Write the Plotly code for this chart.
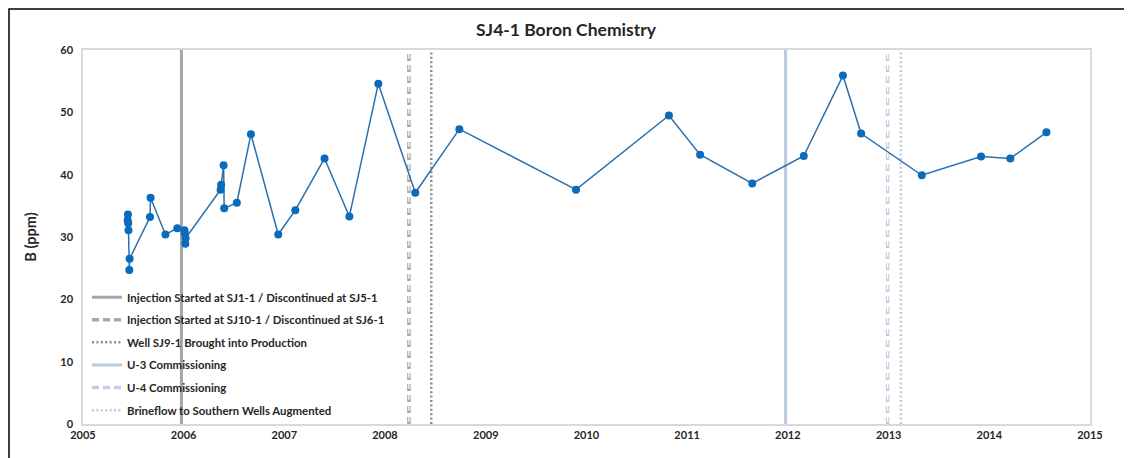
import plotly.graph_objects as go

# ---- data ----
dates = [
    "2005-06-12", "2005-06-13", "2005-06-14", "2005-06-15", "2005-06-18", "2005-06-19",
    "2005-09-01", "2005-09-03", "2005-10-27", "2005-12-09",
    "2006-01-04", "2006-01-05", "2006-01-07", "2006-01-08",
    "2006-05-15", "2006-05-17", "2006-05-26", "2006-05-28", "2006-07-13",
    "2006-09-02", "2006-12-10", "2007-02-10", "2007-05-27", "2007-08-25",
    "2007-12-08", "2008-04-20", "2008-09-27", "2009-11-24", "2010-10-27",
    "2011-02-17", "2011-08-25", "2012-02-28", "2012-07-19", "2012-09-23",
    "2013-05-01", "2013-12-02", "2014-03-18", "2014-07-27",
]
boron = [
    32.7, 33.6, 32.2, 31.1, 24.7, 26.5,
    33.2, 36.3, 30.4, 31.4,
    31.1, 30.6, 28.9, 29.8,
    37.6, 38.4, 41.5, 34.6, 35.5,
    46.5, 30.4, 34.3, 42.6, 33.3,
    54.6, 37.1, 47.3, 37.6, 49.5,
    43.2, 38.6, 43.0, 55.9, 46.6,
    39.9, 42.9, 42.6, 46.8,
]

event_names = [
    "Injection Started at SJ1-1 / Discontinued at SJ5-1",
    "Injection Started at SJ10-1 / Discontinued at SJ6-1",
    "Well SJ9-1 Brought into Production",
    "U-3 Commissioning",
    "U-4 Commissioning",
    "Brineflow to Southern Wells Augmented",
]
event_dates = ["2005-12-24", "2008-03-28", "2008-06-17", "2011-12-24", "2012-12-28", "2013-02-14"]
event_colors = ["#a6a6a6", "#a6a6a6", "#8f8f8f", "#b9c9e0", "#c3cfe0", "#c3cbd9"]
event_dash = ["solid", "7px,4px", "2px,2.4px", "solid", "7px,4px", "2px,2.4px"]
event_width = [3, 3.5, 2.5, 3, 3.5, 2.5]

tick_years = ["2005", "2006", "2007", "2008", "2009", "2010", "2011", "2012", "2013", "2014", "2015"]

y_min, y_max = 0, 60
FONT = "Lato"
TXT = "#262626"

W, H = 1132, 458
ML, MR, MT, MB = 75, 50, 42, 42
PH = H - MT - MB

fig = go.Figure()

for i, (name, d, c, dash, w) in enumerate(zip(event_names, event_dates, event_colors, event_dash, event_width)):
    fig.add_trace(go.Scatter(
        x=[d, d], y=[y_min, y_max], mode="lines", name=f"<b>{name}</b>",
        legendgroup=f"g{i}",
        line=dict(color=c, width=w, dash=dash), hoverinfo="skip",
    ))
    if dash.startswith("7px"):
        # hollow look of the dashes
        fig.add_trace(go.Scatter(
            x=[d, d], y=[y_min + 0.35, y_max - 0.35], mode="lines", showlegend=False,
            legendgroup=f"g{i}",
            line=dict(color="white", width=1.3, dash="5px,6px"), hoverinfo="skip",
        ))

fig.add_trace(go.Scatter(
    x=dates, y=boron, mode="lines+markers", name="SJ4-1 Boron", showlegend=False,
    line=dict(color="#2a70ad", width=1.5),
    marker=dict(color="#0a6bbd", size=8),
))

fig.update_layout(
    width=W, height=H,
    margin=dict(l=ML, r=MR, t=MT, b=MB, autoexpand=False),
    paper_bgcolor="white", plot_bgcolor="white",
    font=dict(family=FONT, size=11, color=TXT),
    title=dict(text="<b>SJ4-1 Boron Chemistry</b>", x=558 / W, xref="container", xanchor="center",
               y=1 - 22 / H, yref="container", yanchor="middle",
               font=dict(family=FONT, size=17.5, color=TXT)),
    showlegend=True,
    legend=dict(x=0.004, y=0.378, xanchor="left", yanchor="top",
                bgcolor="rgba(0,0,0,0)", font=dict(family=FONT, size=11.4, color=TXT),
                itemwidth=30, tracegroupgap=3.6),
    xaxis=dict(
        type="date", range=["2005-01-01", "2015-01-01"], automargin=False,
        tickvals=[f"{y}-01-01" for y in tick_years], ticktext=[f"<b>{y}</b>" for y in tick_years],
        showgrid=False, zeroline=False, showline=True, linecolor="#d9d9d9", linewidth=1.5,
        mirror=True, ticks="", tickfont=dict(family=FONT, size=11, color=TXT),
    ),
    yaxis=dict(
        range=[y_min, y_max], dtick=10, tickformat="d", automargin=False,
        showgrid=False, zeroline=False, showline=True, linecolor="#d9d9d9", linewidth=1.5,
        mirror=True, ticks="", ticklabelstandoff=6,
        tickprefix="<b>", ticksuffix="</b>",
        tickfont=dict(family=FONT, size=11, color=TXT),
        title=dict(text="<b>B (ppm)</b>", font=dict(family=FONT, size=14.5, color=TXT), standoff=20),
    ),
)

# outer chart border (top and left visible)
fig.add_shape(type="rect", xref="paper", yref="paper",
              x0=(1 - ML) / (W - ML - MR), x1=1.2, y0=-0.3, y1=(H - MB - 1) / PH,
              line=dict(color="black", width=1.5), fillcolor="rgba(0,0,0,0)", layer="below")

fig.write_html("out.html")
